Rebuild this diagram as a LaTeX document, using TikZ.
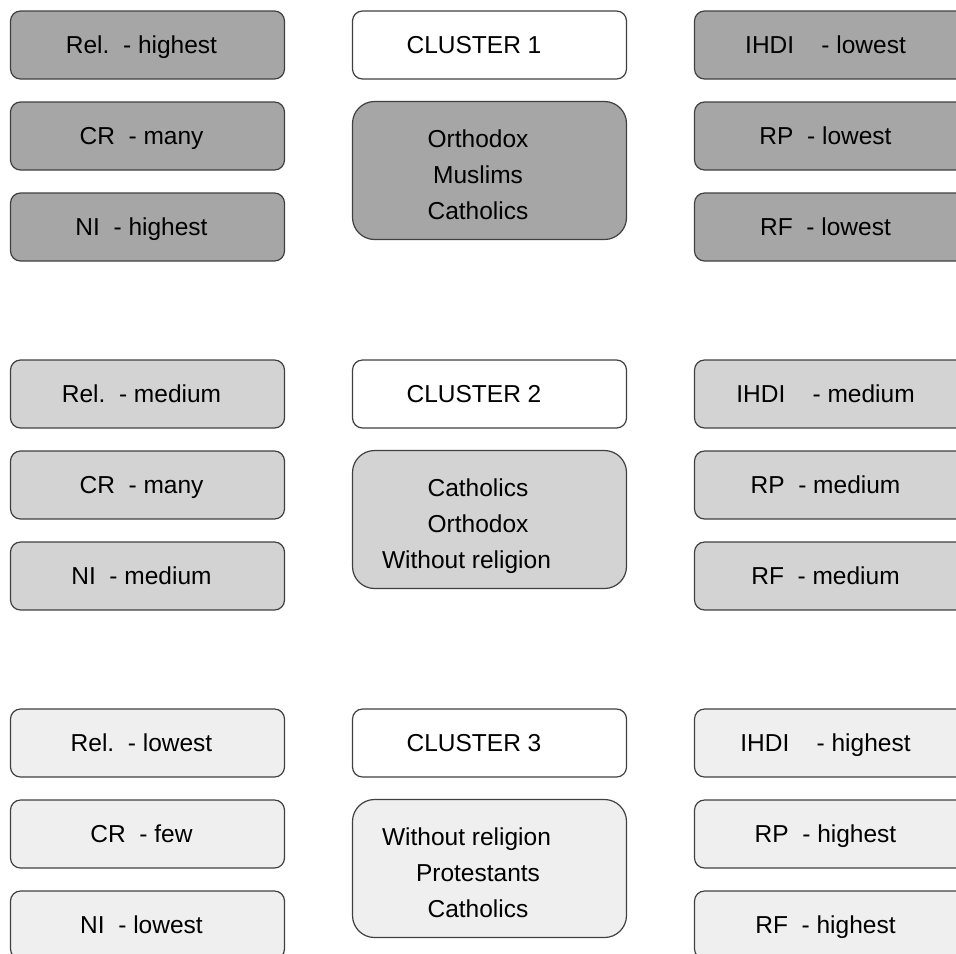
\documentclass[tikz,border=0pt]{standalone}
\usepackage{fontspec}
\setmainfont{Liberation Sans}
\usetikzlibrary{positioning}

\definecolor{shadeA}{HTML}{A6A6A6}
\definecolor{shadeB}{HTML}{D3D3D3}
\definecolor{shadeC}{HTML}{EFEFEF}

\newcommand{\rows}[1]{\begin{tabular}{@{}c@{}}#1\end{tabular}}

\begin{document}
\begin{tikzpicture}[
    x = 0.5pt, y = -0.5pt,
    node distance = 45.5pt,
    base/.style = {draw = black!75, line width = 0.6pt, minimum width = 137pt,
        font = \fontsize{12.25}{18}\selectfont},
    cell/.style = {base, rounded corners = 5pt, minimum height = 34pt,
        text height = 8.5pt, text depth = 0pt,
        execute at end node = {\hspace*{6pt}}},
    head/.style = {base, rounded corners = 5pt, minimum height = 34pt, fill = white,
        text height = 8.5pt, text depth = 0pt,
        execute at end node = {\hspace*{15.5pt}}},
    list/.style = {base, rounded corners = 11pt, minimum height = 69pt,
        text height = 11.7pt, text depth = 0pt,
        execute at end node = {\hspace*{11.5pt}}}
]
\useasboundingbox (0,0) rectangle (956,953);

% Cluster 1
\node[cell, fill = shadeA] (rel1) at (147.5,45) {Rel.\ \ - highest};
\node[cell, fill = shadeA] (cr1) [below of=rel1] {CR\ \ - many};
\node[cell, fill = shadeA] (ni1) [below of=cr1] {NI\ \ - highest};

\node[head] (head1) at (489.5,45) {CLUSTER 1};
\node[list, fill = shadeA] (list1) at (489.5,170.5) {\rows{Orthodox \\ Muslims \\ Catholics}};

\node[cell, fill = shadeA] (ihdi1) at (831.5,45) {IHDI\ \ \ \ - lowest};
\node[cell, fill = shadeA] (rp1) [below of=ihdi1] {RP\ \ - lowest};
\node[cell, fill = shadeA] (rf1) [below of=rp1] {RF\ \ - lowest};

% Cluster 2
\node[cell, fill = shadeB] (rel2) at (147.5,394) {Rel.\ \ - medium};
\node[cell, fill = shadeB] (cr2) [below of=rel2] {CR\ \ - many};
\node[cell, fill = shadeB] (ni2) [below of=cr2] {NI\ \ - medium};

\node[head] (head2) at (489.5,394) {CLUSTER 2};
\node[list, fill = shadeB] (list2) at (489.5,519.5)
    {\rows{Catholics \\ Orthodox \\ Without religion\hspace*{11.5pt}}};

\node[cell, fill = shadeB] (ihdi2) at (831.5,394) {IHDI\ \ \ \ - medium};
\node[cell, fill = shadeB] (rp2) [below of=ihdi2] {RP\ \ - medium};
\node[cell, fill = shadeB] (rf2) [below of=rp2] {RF\ \ - medium};

% Cluster 3
\node[cell, fill = shadeC] (rel3) at (147.5,743) {Rel.\ \ - lowest};
\node[cell, fill = shadeC] (cr3) [below of=rel3] {CR\ \ - few};
\node[cell, fill = shadeC] (ni3) [below of=cr3] {NI\ \ - lowest};

\node[head] (head3) at (489.5,743) {CLUSTER 3};
\node[list, fill = shadeC] (list3) at (489.5,868.5)
    {\rows{Without religion\hspace*{11.5pt} \\ Protestants \\ Catholics}};

\node[cell, fill = shadeC] (ihdi3) at (831.5,743) {IHDI\ \ \ \ - highest};
\node[cell, fill = shadeC] (rp3) [below of=ihdi3] {RP\ \ - highest};
\node[cell, fill = shadeC] (rf3) [below of=rp3] {RF\ \ - highest};

\end{tikzpicture}
\end{document}
